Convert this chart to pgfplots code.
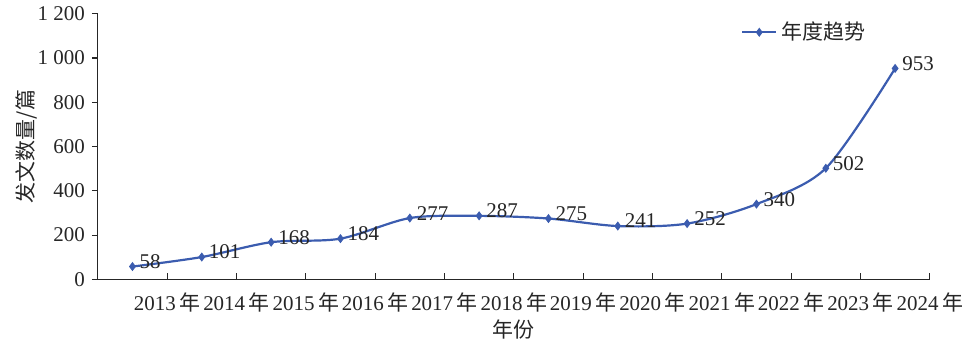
\documentclass[border=0pt]{standalone}
\usepackage{pgfplots}
\pgfplotsset{compat=1.18}
\usepackage{fontspec}
\setmainfont{Liberation Serif}
\newfontfamily\cjk{Noto Sans CJK SC}
\definecolor{lc}{RGB}{59,92,175}
\newcommand\yr[1]{#1\,{\cjk 年}}
\begin{document}
\begin{tikzpicture}
\begin{axis}[
  scale only axis, width=416.5pt, height=133pt,
  xmin=0, xmax=12, ymin=0, ymax=1200,
  /pgf/number format/assume math mode=true,
  axis lines=left,
  axis line style={-, black!85, line width=0.6pt},
  tick style={black!85, line width=0.6pt},
  major tick length=3pt,
  tick align=outside,
  xtick style={yshift=3pt},
  xtick={1,...,12},
  xticklabels={\yr{2013},\yr{2014},\yr{2015},\yr{2016},\yr{2017},\yr{2018},\yr{2019},\yr{2020},\yr{2021},\yr{2022},\yr{2023},\yr{2024}},
  ytick={0,200,400,600,800,1000,1200},
  yticklabels={0,200,400,600,800,1\hspace{0.25em}000,1\hspace{0.25em}200},
  tick label style={font=\fontsize{10.5}{12}\selectfont, text=black!85},
  x tick label style={inner xsep=0pt},
  xlabel={\cjk 年份},
  ylabel={\cjk 发文数量/篇},
  label style={font=\fontsize{10.5}{12}\selectfont, text=black!85},
  xlabel style={yshift=3pt},
  ylabel style={inner ysep=8pt, yshift=-11.5pt},
  legend style={draw=none, fill=none, at={(0.935,0.93)}, anchor=east,
    font=\cjk\fontsize{10.5}{12}\selectfont, text=black!85},
  nodes near coords,
  point meta=explicit,
  every node near coord/.append style={anchor=west, yshift=2.5pt, xshift=0pt,
    font=\fontsize{10.5}{12}\selectfont, text=black!85},
]
\addplot[lc, line width=1.1pt, smooth, tension=0.5, mark=diamond*, mark size=1.9pt,
  mark options={fill=lc, draw=lc, line width=0.5pt}]
  table[meta=y] {
x y
0.5 58
1.5 101
2.5 168
3.5 184
4.5 277
5.5 287
6.5 275
7.5 241
8.5 252
9.5 340
10.5 502
11.5 953
};
\addlegendentry{年度趋势}
\end{axis}
\end{tikzpicture}
\end{document}
